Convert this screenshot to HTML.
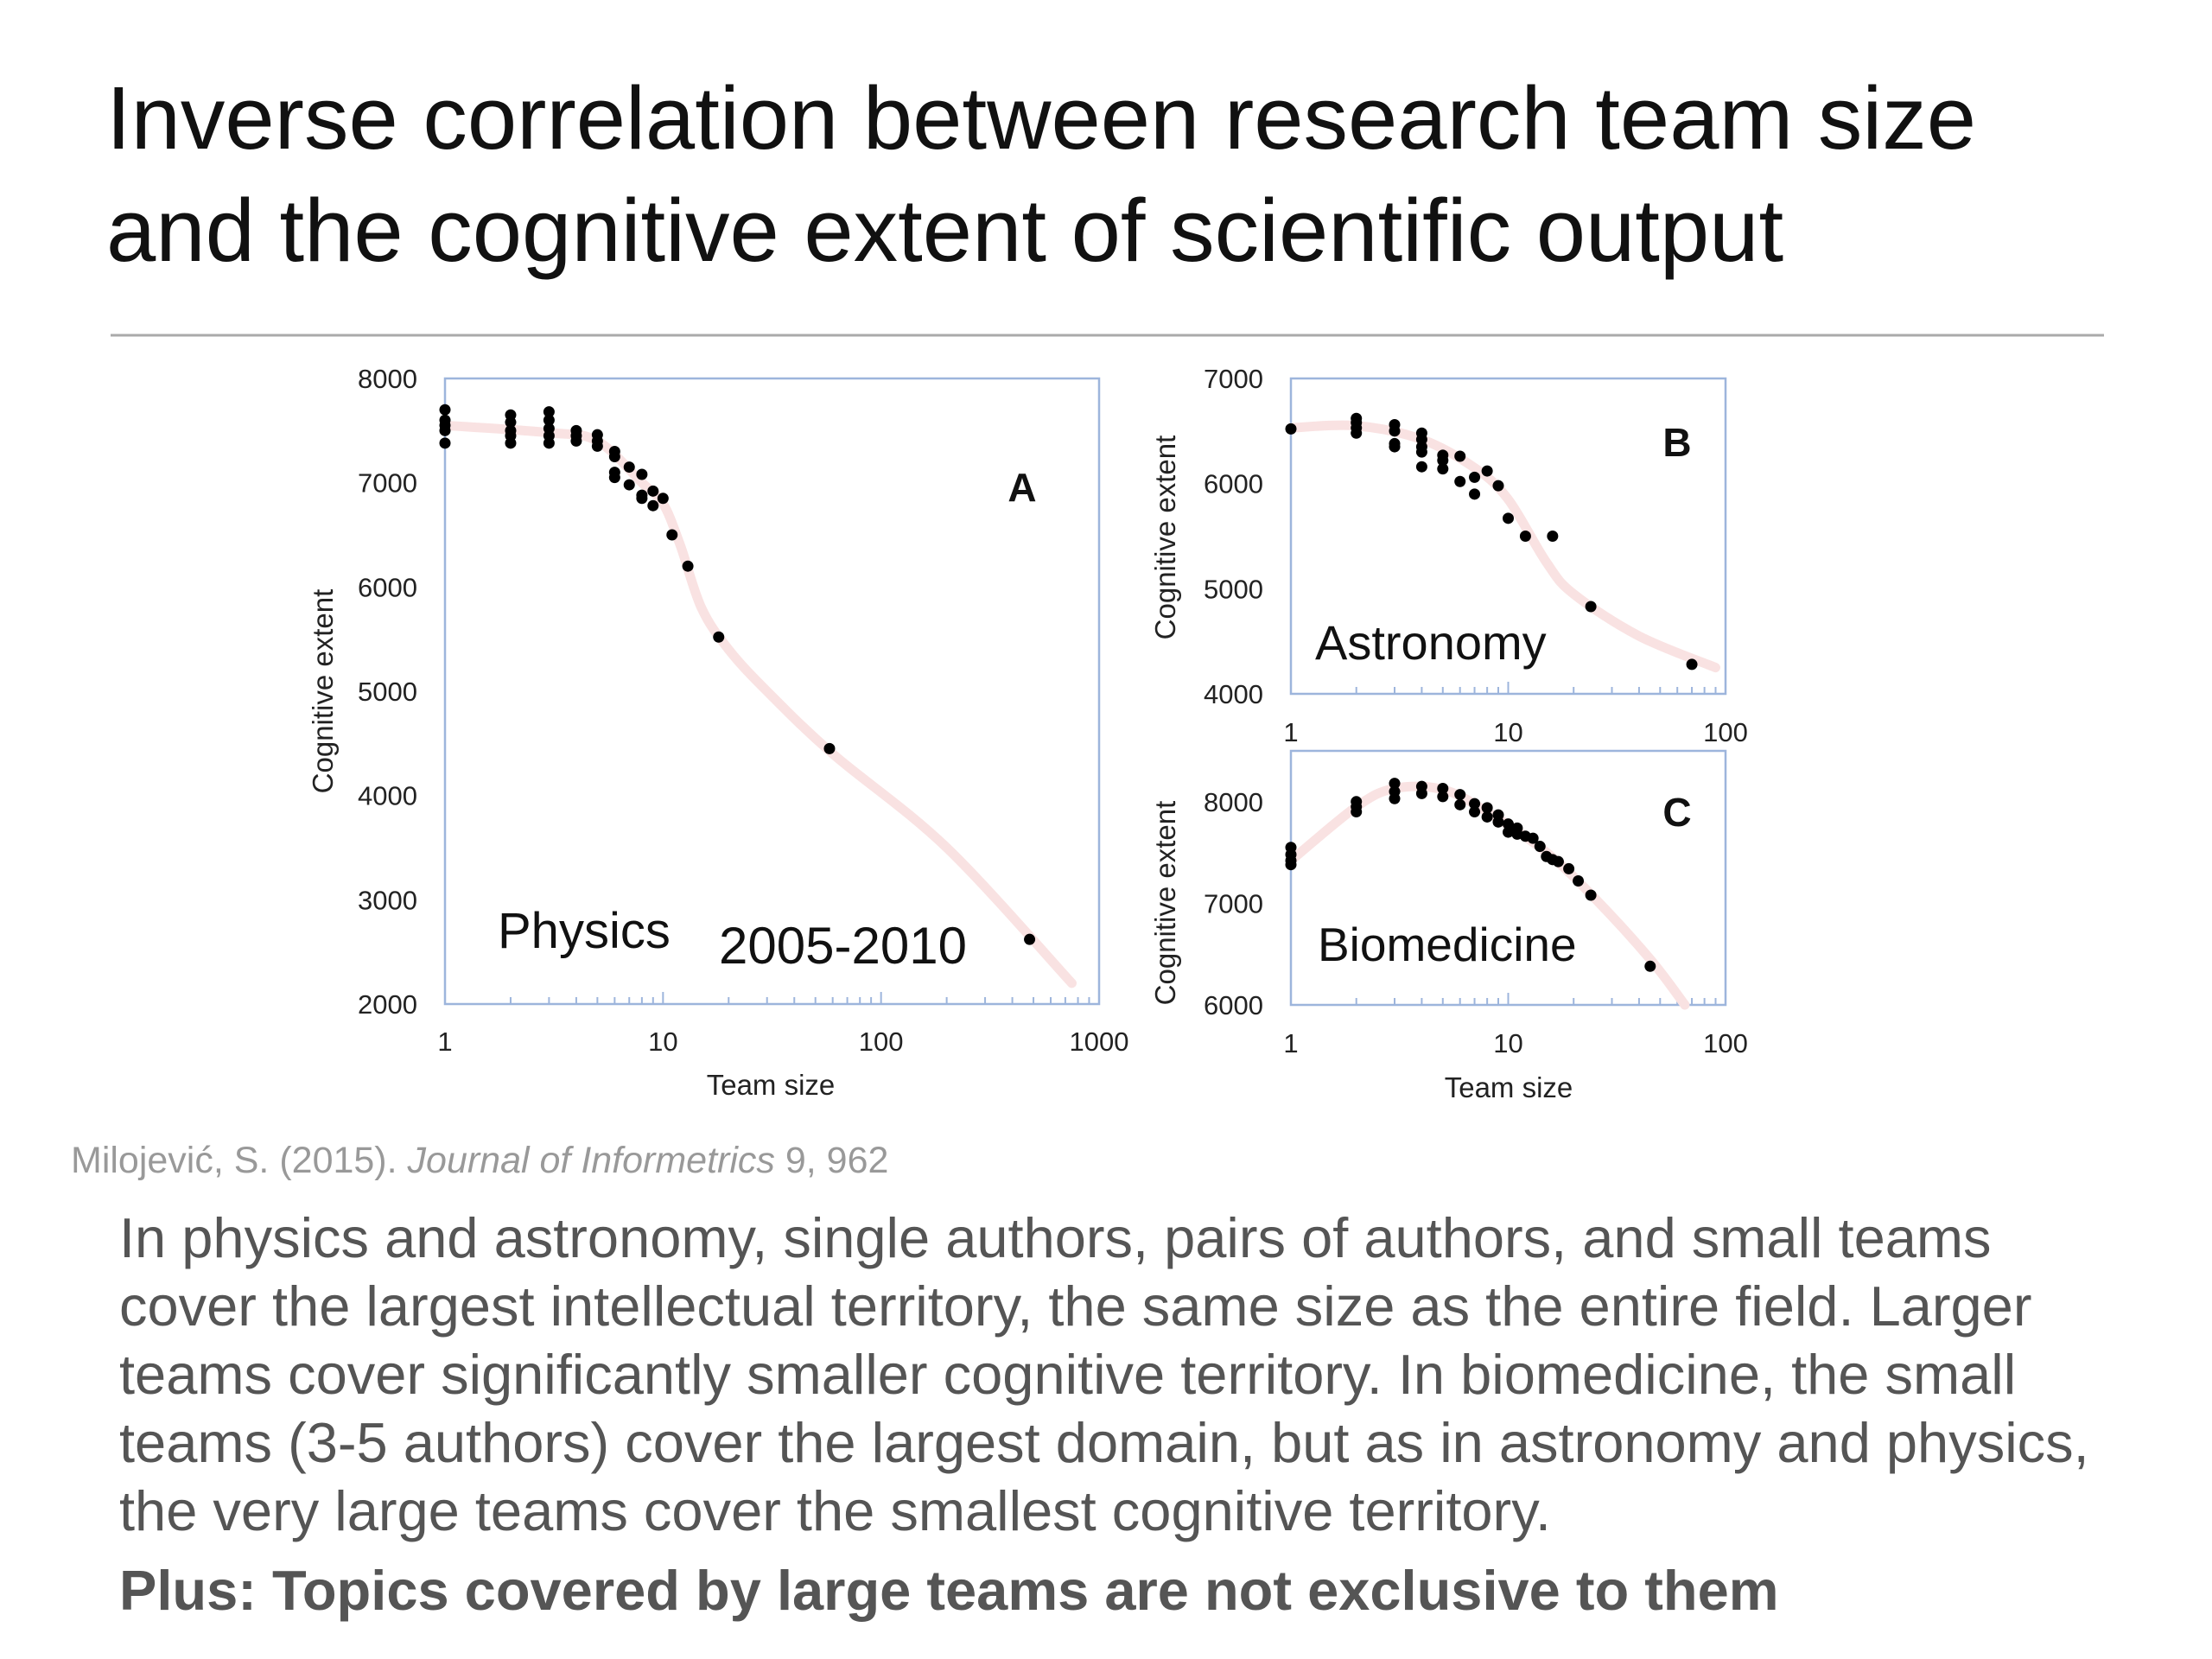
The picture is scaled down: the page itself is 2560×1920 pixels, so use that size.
<!DOCTYPE html>
<html><head><meta charset="utf-8"><style>
html,body{margin:0;padding:0;background:#fff;}
svg{display:block;}
text{font-family:"Liberation Sans",sans-serif;}
</style></head><body>
<svg id="s" width="2560" height="1920" viewBox="0 0 2560 1920" xmlns="http://www.w3.org/2000/svg">
<text x="123" y="172" font-size="103" fill="#111">Inverse correlation between research team size</text>
<text x="123" y="302" font-size="103" fill="#111">and the cognitive extent of scientific output</text>
<line x1="128" y1="388" x2="2435" y2="388" stroke="#aaa" stroke-width="3"/>
<g id="charts"></g>
<text x="82" y="1357" font-size="43" fill="#999">Milojević, S. (2015). <tspan font-style="italic">Journal of Informetrics</tspan> 9, 962</text>
<g font-size="65" fill="#555">
<text x="138" y="1455">In physics and astronomy, single authors, pairs of authors, and small teams</text>
<text x="138" y="1534">cover the largest intellectual territory, the same size as the entire field. Larger</text>
<text x="138" y="1613">teams cover significantly smaller cognitive territory. In biomedicine, the small</text>
<text x="138" y="1692">teams (3-5 authors) cover the largest domain, but as in astronomy and physics,</text>
<text x="138" y="1771">the very large teams cover the smallest cognitive territory.</text>
</g>
<text x="138" y="1863" font-size="65" font-weight="bold" fill="#555">Plus: Topics covered by large teams are not exclusive to them</text>
</svg>
<script>
// Physics (A)
const physX = [1,1,1,1,1, 2,2,2,2,2, 3,3,3,3,3, 4,4,4, 5,5,5, 6,6,6,6, 7,7, 8,8,8, 9,9, 10, 11, 13, 18, 58, 480];
const physY = [7700,7600,7550,7500,7380, 7650,7580,7500,7450,7380, 7680,7600,7520,7450,7380, 7500,7450,7400, 7460,7400,7350, 7300,7250,7100,7050, 7150,6980, 7080,6880,6850, 6920,6780, 6850, 6500, 6200, 5520, 4450, 2620];
const physFitX = [1,3,5,8,10,12,15,20,30,60,200,750];
const physFitY = [7550,7480,7400,7000,6800,6400,5800,5400,5000,4400,3500,2200];
const physYTicks = [2000,3000,4000,5000,6000,7000,8000];
const physXTicks = [1,10,100,1000];
// Astronomy (B)
const astX = [1, 2,2,2,2, 3,3,3,3, 4,4,4,4,4, 5,5,5, 6,6, 7,7, 8, 9, 10, 12, 16, 24, 70];
const astY = [6520, 6620,6580,6530,6480, 6560,6500,6380,6350, 6480,6420,6350,6300,6160, 6270,6220,6140, 6260,6020, 6060,5900, 6120, 5980, 5670, 5500, 5500, 4830, 4280];
const astFitX = [1,2,4,7,10,15,20,40,90];
const astFitY = [6530,6550,6420,6150,5850,5250,4950,4550,4250];
const astYTicks = [4000,5000,6000,7000];
// Biomedicine (C)
const bioX = [1,1,1,1, 2,2,2, 3,3,3, 4,4, 5,5, 6,6, 7,7, 8,8, 9,9, 10,10, 11,11, 12, 13, 14, 15, 16, 17, 19, 21, 24, 45];
const bioY = [7550,7480,7420,7380, 8000,7950,7900, 8180,8100,8030, 8150,8080, 8130,8050, 8070,7970, 7980,7900, 7940,7850, 7870,7800, 7780,7700, 7740,7680, 7660, 7640, 7560, 7460, 7430, 7410, 7340, 7220, 7080, 6380];
const bioFitX = [1,2,3,5,8,15,25,45,65];
const bioFitY = [7420,7950,8130,8120,7900,7500,7050,6450,6000];
const bioYTicks = [6000,7000,8000];
const smallXTicks = [1,10,100];

const NS = "http://www.w3.org/2000/svg";
const root = document.getElementById('charts');
function mk(tag, attrs, parent){const e=document.createElementNS(NS,tag);for(const k in attrs)e.setAttribute(k,attrs[k]);(parent||root).appendChild(e);return e;}

function chart(o){
  const g = mk('g',{});
  
  
  const sx = v => o.x0 + (Math.log10(v)-Math.log10(o.xmin))/(Math.log10(o.xmax)-Math.log10(o.xmin))*(o.x1-o.x0);
  const sy = v => o.y1 - (v-o.ymin)/(o.ymax-o.ymin)*(o.y1-o.y0);
  const box = mk('rect',{x:o.x0,y:o.y0,width:o.x1-o.x0,height:o.y1-o.y0,fill:'none',stroke:'#9db5dc','stroke-width':2.5},g);
  
  
  for(let d=Math.log10(o.xmin); d<Math.log10(o.xmax); d++){
    for(let m=2;m<=9;m++){const v=m*Math.pow(10,d); const x=sx(v);
      mk('line',{x1:x,y1:o.y1,x2:x,y2:o.y1-8,stroke:'#9db5dc','stroke-width':2},g);}
    const x=sx(Math.pow(10,d+1)); mk('line',{x1:x,y1:o.y1,x2:x,y2:o.y1-14,stroke:'#9db5dc','stroke-width':2},g);
  }
  o.yt.forEach(v=>{const t=mk('text',{x:o.x0-32,y:sy(v)+11,'font-size':31,'text-anchor':'end',fill:'#222'},g);t.textContent=v;
    
    });
  o.xt.forEach(v=>{const t=mk('text',{x:sx(v),y:o.xly,'font-size':31,'text-anchor':'middle',fill:'#222'},g);t.textContent=v;
    
    });
  const P = o.fx.map((v,i)=>[sx(v),sy(o.fy[i])]);
  let d='M'+P[0][0]+','+P[0][1];
  for(let i=0;i<P.length-1;i++){const p0=P[Math.max(0,i-1)],p1=P[i],p2=P[i+1],p3=P[Math.min(P.length-1,i+2)];
    d+=' C'+(p1[0]+(p2[0]-p0[0])/6)+','+(p1[1]+(p2[1]-p0[1])/6)+' '+(p2[0]-(p3[0]-p1[0])/6)+','+(p2[1]-(p3[1]-p1[1])/6)+' '+p2[0]+','+p2[1];}
  const c = mk('path',{d:d,fill:'none',stroke:'#f9e2e2','stroke-width':11,'stroke-linecap':'round'},g);
  
  
  o.px.forEach((v,i)=>{const p=mk('circle',{cx:sx(v),cy:sy(o.py[i]),r:6.5,fill:'#000'},g);
    
    });
  return g;
}
chart({name:'chart-physics',x0:515,x1:1272,y0:438,y1:1162,xmin:1,xmax:1000,ymin:2000,ymax:8000,yt:physYTicks,xt:physXTicks,xly:1216,px:physX,py:physY,fx:physFitX,fy:physFitY});
chart({name:'chart-astronomy',x0:1494,x1:1997,y0:438,y1:803,xmin:1,xmax:100,ymin:4000,ymax:7000,yt:astYTicks,xt:smallXTicks,xly:858,px:astX,py:astY,fx:astFitX,fy:astFitY});
chart({name:'chart-biomedicine',x0:1494,x1:1997,y0:869,y1:1163,xmin:1,xmax:100,ymin:6000,ymax:8500,yt:bioYTicks,xt:smallXTicks,xly:1218,px:bioX,py:bioY,fx:bioFitX,fy:bioFitY});

function label(txt,x,y,size,attrs,name){const t=mk('text',Object.assign({x:x,y:y,'font-size':size,fill:'#111'},attrs||{}));t.textContent=txt;
  
  return t;}
label('A',1183,580,46,{'font-weight':'bold','text-anchor':'middle'},'panel-label-a');
label('B',1941,528,46,{'font-weight':'bold','text-anchor':'middle'},'panel-label-b');
label('C',1941,956,46,{'font-weight':'bold','text-anchor':'middle'},'panel-label-c');
label('Physics',576,1097,58,{},'physics-label');
label('2005-2010',832,1115,60,{},'period-label');
label('Astronomy',1522,763,56,{},'astronomy-label');
label('Biomedicine',1525,1112,55,{},'biomedicine-label');
label('Team size',892,1267,33,{'text-anchor':'middle',fill:'#222'},'x-axis-title-a');
label('Team size',1746,1270,33,{'text-anchor':'middle',fill:'#222'},'x-axis-title-bc');
label('Cognitive extent',385,800,33,{'text-anchor':'middle',fill:'#222',transform:'rotate(-90 385 800)'},'y-axis-title-a');
label('Cognitive extent',1360,622,33,{'text-anchor':'middle',fill:'#222',transform:'rotate(-90 1360 622)'},'y-axis-title-b');
label('Cognitive extent',1360,1045,33,{'text-anchor':'middle',fill:'#222',transform:'rotate(-90 1360 1045)'},'y-axis-title-c');
</script>
</body></html>
